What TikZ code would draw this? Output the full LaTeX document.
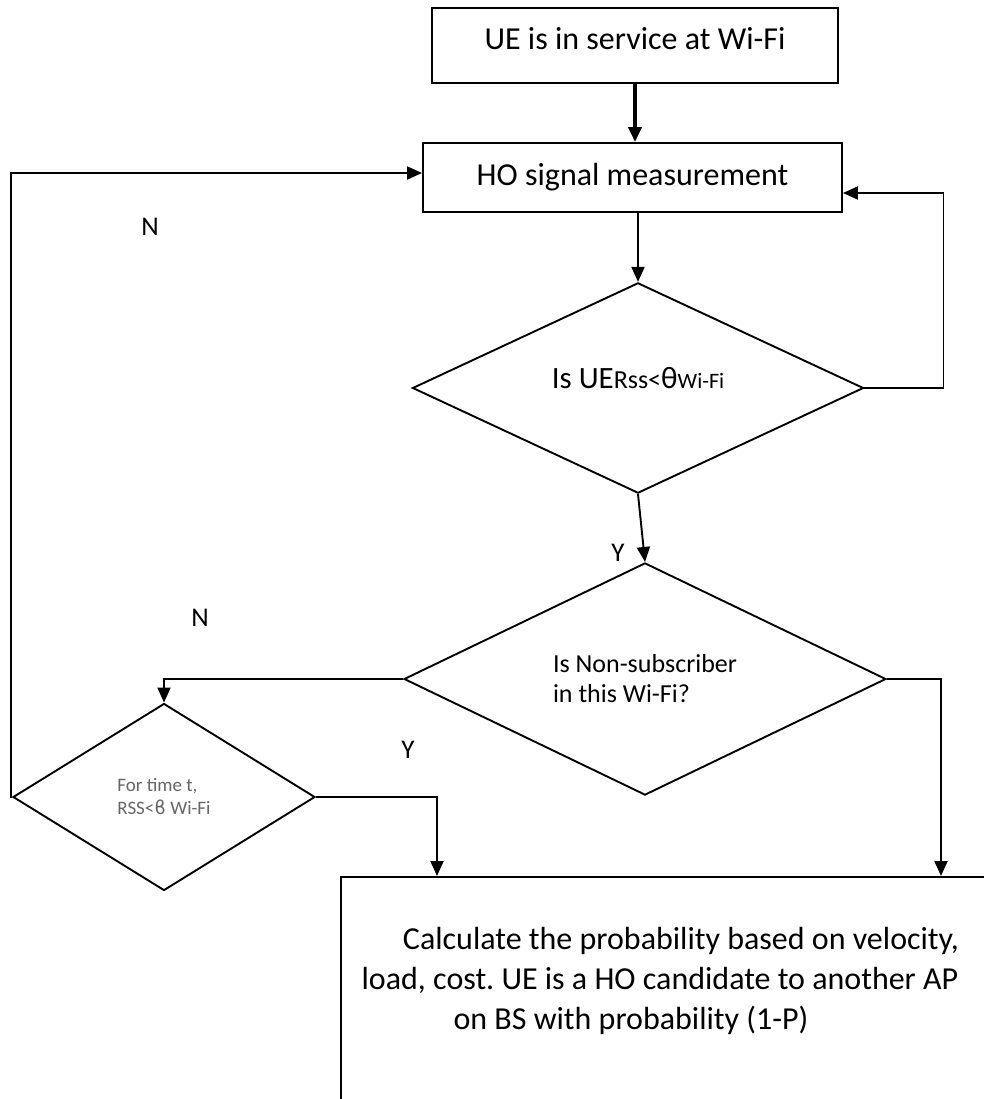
\documentclass[tikz,border=0pt]{standalone}
\usepackage{fontspec}
\setmainfont{Carlito}
\newfontfamily\dejavu{DejaVu Sans}
\usetikzlibrary{shapes.geometric,arrows.meta}
\frenchspacing
\begin{document}
\begin{tikzpicture}[x=1pt,y=-1pt,line width=1.9pt,
  box/.style={draw,rectangle,inner sep=0pt,font=\fontsize{32}{38}\selectfont},
  dec/.style={draw,diamond,inner sep=0pt,align=left},
  arr/.style={-{Triangle[length=15pt,width=13pt]}},
  lbl/.style={font=\fontsize{27}{32}\selectfont}]
\useasboundingbox (0,0) rectangle (984,1099);
\clip (0,0) rectangle (984,1099);
\fill[white] (0,0) rectangle (984,1099);

\node[box,minimum width=406pt,minimum height=75pt,text height=21pt,text depth=12pt] (b1) at (635,45.5) {UE is in service at Wi-Fi};
\node[box,minimum width=419pt,minimum height=69pt] (b2) at (632.5,177.5) {HO signal measurement};

\node[dec,minimum width=451pt,minimum height=206pt,font=\fontsize{31}{36}\selectfont,text height=19pt,text depth=19pt] (d1) at (638,388)
  {Is UE{\fontsize{26}{26}\selectfont Rss<}θ{\fontsize{22}{22}\selectfont Wi-Fi}};
\node[dec,minimum width=482pt,minimum height=193pt,font=\fontsize{26}{30}\selectfont] (d2) at (645,679)
  {Is Non-subscriber\\in this Wi-Fi?};
\node[dec,minimum width=302pt,minimum height=187pt,font=\fontsize{19}{23}\selectfont,text=black!60] (d3) at (164,797)
  {For time t,\\RSS<{\dejavu ϐ} Wi-Fi};

\node[draw,rectangle,inner sep=0pt,minimum width=800pt,minimum height=400pt,anchor=north west] (b3) at (340,876) {};
\node[font=\fontsize{32}{40}\selectfont,align=center] (b3t) at (660,981)
  {\hspace*{42pt}Calculate the probability based on velocity,\\
   load, cost. UE is a HO candidate to another AP\\
   on BS with probability (1-P)\mbox{}\hspace*{58pt}\mbox{}};

\draw[arr,line width=4pt] (b1.south) -- (b1.south |- b2.north);
\draw[arr] (d1.north |- b2.south) -- (d1.north);
\draw[arr] (d1.east) -- ++(79,0) |- ([yshift=-15.5pt]b2.east);
\draw[arr] (d1.south) -- (d2.north);
\draw[arr] (d2.west) -| (d3.north);
\draw[arr] (d3.west) -- ++(-1,0) |- ([yshift=4.5pt]b2.west);
\draw[arr] (d3.east) -| ([xshift=97pt]b3.north west);
\draw[arr] (d2.east) -| ([xshift=601pt]b3.north west);

\node[lbl] (n1) at (150,227) {N};
\node[lbl] (n2) at (200,618) {N};
\node[lbl] (y1) at (618,553) {Y};
\node[lbl] (y2) at (408,750) {Y};
\end{tikzpicture}
\end{document}
